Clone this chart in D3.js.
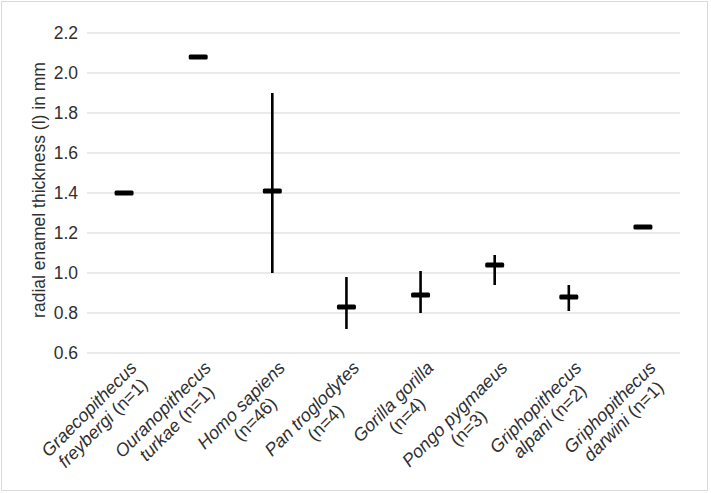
<!DOCTYPE html>
<html><head><meta charset="utf-8">
<script src="https://cdn.jsdelivr.net/npm/d3@7"></script>
<style>
body{margin:0;background:#fff;}
text{font-family:"Liberation Sans",Arial,sans-serif;fill:#303030;}
</style></head>
<body><svg id="c" width="711" height="493"></svg>
<script>
const line1 = ["Graecopithecus","Ouranopithecus","Homo sapiens","Pan troglodytes","Gorilla gorilla","Pongo pygmaeus","Griphopithecus","Griphopithecus"];
const line2Italic = ["freybergi","turkae","","","","","alpani","darwini"];
const nLabels = ["(n=1)","(n=1)","(n=46)","(n=4)","(n=4)","(n=3)","(n=2)","(n=1)"];
const means = [1.40, 2.08, 1.41, 0.83, 0.89, 1.04, 0.88, 1.23];
const maxVals = [null, null, 1.90, 0.98, 1.01, 1.09, 0.94, null];
const minVals = [null, null, 1.00, 0.72, 0.80, 0.94, 0.81, null];
const yTicks = [0.6, 0.8, 1.0, 1.2, 1.4, 1.6, 1.8, 2.0, 2.2];
const yTitle = "radial enamel thickness (l) in mm";

const svg = d3.select("#c");
const W = 711, H = 493;
const m = {left: 87, right: 31, top: 33, bottom: 140};

svg.append("rect").attr("x",1.5).attr("y",1.5).attr("width",W-5).attr("height",H-4)
  .attr("fill","#fff").attr("stroke","#d9d9d9").attr("stroke-width",1);

const x = d3.scaleBand().domain(d3.range(line1.length)).range([m.left, W-m.right]);
const y = d3.scaleLinear().domain([0.6, 2.2]).range([H-m.bottom, m.top]);

// gridlines
svg.append("g").selectAll("line").data(yTicks).join("line")
  .attr("x1", m.left).attr("x2", W-m.right)
  .attr("y1", d=>y(d)).attr("y2", d=>y(d))
  .attr("stroke","#e3e3e3").attr("stroke-width",1.5);

// y axis labels
const yAxis = d3.axisLeft(y).tickValues(yTicks).tickFormat(d3.format(".1f")).tickSize(0).tickPadding(9);
const ga = svg.append("g").attr("transform",`translate(${m.left},0)`).call(yAxis);
ga.select(".domain").remove();
ga.selectAll("text").attr("font-size",17.5).style("font-family","Liberation Sans, Arial, sans-serif").attr("fill","#303030");

// y title
svg.append("text").attr("transform",`translate(45,${(y(0.6)+y(2.2))/2 - 3}) rotate(-90)`)
  .attr("text-anchor","middle").attr("font-size",17.5).text(yTitle);

// error bars
const idx = d3.range(line1.length);
svg.append("g").selectAll("line").data(idx.filter(i=>maxVals[i]!=null)).join("line")
  .attr("x1", i=>x(i)+x.bandwidth()/2).attr("x2", i=>x(i)+x.bandwidth()/2)
  .attr("y1", i=>y(maxVals[i])).attr("y2", i=>y(minVals[i]))
  .attr("stroke","#000").attr("stroke-width",2.6);

// mean markers
svg.append("g").selectAll("rect").data(idx).join("rect")
  .attr("x", i=>x(i)+x.bandwidth()/2-9.5).attr("width",19)
  .attr("y", i=>y(means[i])-2.5).attr("height",5).attr("rx",1.5)
  .attr("fill","#000");

// category labels
const fs = 18, lh = 19.5;
idx.forEach(i=>{
  const cx = x(i)+x.bandwidth()/2;
  const g = svg.append("g").attr("transform",`translate(${cx+4},${y(0.6)+6}) rotate(-45)`);
  const t1 = g.append("text").attr("font-size",fs).attr("text-anchor","middle").attr("y",14)
    .style("font-style","italic").text(line1[i]);
  const t2 = g.append("text").attr("font-size",fs).attr("text-anchor","middle").attr("y",14+lh);
  if (line2Italic[i]) {
    t2.append("tspan").style("font-style","italic").text(line2Italic[i]);
    t2.append("tspan").text(" " + nLabels[i]);
  } else {
    t2.append("tspan").text(nLabels[i]);
  }
  const w = Math.max(t1.node().getComputedTextLength(), t2.node().getComputedTextLength());
  t1.attr("x", -w/2); t2.attr("x", -w/2);
});
</script></body></html>
